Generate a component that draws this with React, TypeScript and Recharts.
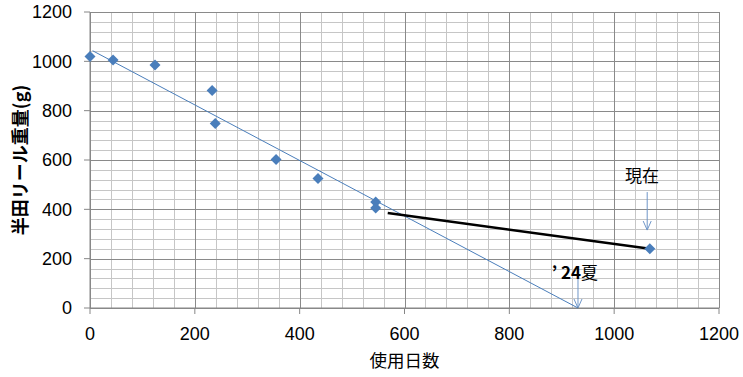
import React from "react";
import {
  ScatterChart,
  Scatter,
  XAxis,
  YAxis,
  CartesianGrid,
  ReferenceLine,
  ReferenceDot,
} from "recharts";

// measured reel weight (g) by days of use
const days = [0, 44, 124, 233, 239, 355, 435, 545, 545, 1068];
const weights = [1020, 1005, 985, 882, 748, 602, 525, 430, 405, 240];

// linear trend drawn on the original sheet
const trendDays = [5, 931];
const trendWeights = [1043, 0];

// hand-drawn line towards the current value
const nowLineDays = [568, 1068];
const nowLineWeights = [385, 240];

const xTicks = [0, 200, 400, 600, 800, 1000, 1200];
const yTicks = [0, 200, 400, 600, 800, 1000, 1200];
const X_MAX = 1200;
const Y_MAX = 1200;

const minorStep = 40;
const minorX: number[] = [];
for (let v = 0; v <= X_MAX; v += minorStep) minorX.push(v);
const minorY: number[] = [];
for (let v = 0; v <= Y_MAX; v += minorStep) minorY.push(v);

const points = days.map((d, i) => ({ x: d, y: weights[i] }));
const trend = trendDays.map((d, i) => ({ x: d, y: trendWeights[i] }));
const nowLine = nowLineDays.map((d, i) => ({ x: d, y: nowLineWeights[i] }));

const BLUE = "#4a7ebb";
const ARROW = "#6f96c8";
const numFont = "'Liberation Sans Narrow', 'Liberation Sans', sans-serif";
const jpFont = "'Noto Sans CJK JP', sans-serif";

// grid positions through the axis scale (no label-collision thinning)
const xGen = (values: number[]) => (args: any) => {
  const scale = args?.xAxis?.scale;
  if (typeof scale === "function") return values.map((v) => scale(v));
  const o = args.offset;
  return values.map((v) => o.left + (v / X_MAX) * o.width);
};
const yGen = (values: number[]) => (args: any) => {
  const scale = args?.yAxis?.scale;
  if (typeof scale === "function") return values.map((v) => scale(v));
  const o = args.offset;
  return values.map((v) => o.top + (1 - v / Y_MAX) * o.height);
};

const gridLine = (color: string) => (props: any) => {
  const { x1, y1, x2, y2 } = props;
  const snap = (v: number) => Math.round(v) + 0.5;
  const vertical = x1 === x2;
  return (
    <line
      key={props.key}
      x1={vertical ? snap(x1) : x1}
      x2={vertical ? snap(x2) : x2}
      y1={vertical ? y1 : snap(y1)}
      y2={vertical ? y2 : snap(y2)}
      stroke={color}
      strokeWidth={1}
      fill="none"
    />
  );
};

const Diamond = (props: any) => {
  const { cx, cy } = props;
  if (cx == null || cy == null) return null;
  const r = 5.5;
  return (
    <path
      d={`M${cx},${cy - r} L${cx + r},${cy} L${cx},${cy + r} L${cx - r},${cy} Z`}
      fill={BLUE}
    />
  );
};

const NoDot = () => null;

const Arrow = (props: any) => {
  const { x1, y1, x2, y2 } = props;
  if (x1 == null) return null;
  return (
    <g>
      <line x1={x1} y1={y1} x2={x2} y2={y2} stroke={ARROW} strokeWidth={1} />
      <path
        d={`M${x2 - 4},${y2 - 9} L${x2},${y2} L${x2 + 4},${y2 - 9}`}
        fill="none"
        stroke={ARROW}
        strokeWidth={1}
      />
    </g>
  );
};

const NowLabel = (props: any) => (
  <text
    x={props.cx}
    y={props.cy}
    textAnchor="middle"
    dominantBaseline="central"
    fontFamily={jpFont}
    fontSize={17}
    fill="#000"
  >
    現在
  </text>
);

const SummerLabel = (props: any) => (
  <text
    x={props.cx}
    y={props.cy}
    textAnchor="middle"
    dominantBaseline="central"
    fontFamily={jpFont}
    fontSize={17}
    fill="#000"
  >
    <tspan fontWeight="bold">’ 24</tspan>
    <tspan>夏</tspan>
  </text>
);

export default function App() {
  return (
    <div style={{ position: "absolute", left: 0, top: 0, background: "#fff" }}>
      <ScatterChart
        width={743}
        height={377}
        margin={{ top: 12, right: 24, left: 0, bottom: 0 }}
      >
        <CartesianGrid
          verticalCoordinatesGenerator={xGen(minorX)}
          horizontalCoordinatesGenerator={yGen(minorY)}
          horizontal={gridLine("#c6c6c6")}
          vertical={gridLine("#c6c6c6")}
        />
        <CartesianGrid
          verticalCoordinatesGenerator={xGen(xTicks)}
          horizontalCoordinatesGenerator={yGen(yTicks)}
          horizontal={gridLine("#8a8a8a")}
          vertical={gridLine("#8a8a8a")}
        />
        <XAxis
          type="number"
          dataKey="x"
          domain={[0, X_MAX]}
          ticks={xTicks}
          height={69}
          tickSize={6}
          tickMargin={13}
          axisLine={{ stroke: "#868686" }}
          tickLine={{ stroke: "#868686" }}
          tick={{ fontSize: 18, fontFamily: numFont, fill: "#000" }}
          label={{
            value: "使用日数",
            position: "insideBottom",
            offset: 10,
            style: { fontSize: 17.5, fontFamily: jpFont, fill: "#000" },
          }}
        />
        <YAxis
          type="number"
          dataKey="y"
          domain={[0, Y_MAX]}
          ticks={yTicks}
          width={90}
          tickSize={6}
          tickMargin={12}
          axisLine={{ stroke: "#868686" }}
          tickLine={{ stroke: "#868686" }}
          tick={{ fontSize: 18, fontFamily: numFont, fill: "#000" }}
          label={{
            value: "半田リール重量(g)",
            angle: -90,
            position: "insideLeft",
            offset: 21,
            style: {
              fontSize: 18,
              fontFamily: jpFont,
              fontWeight: "bold",
              fill: "#000",
              textAnchor: "middle",
            },
          }}
        />
        <Scatter
          data={trend}
          line={{ stroke: BLUE, strokeWidth: 1 }}
          shape={NoDot}
          isAnimationActive={false}
        />
        <Scatter
          data={nowLine}
          line={{ stroke: "#000", strokeWidth: 2.5 }}
          shape={NoDot}
          isAnimationActive={false}
        />
        <Scatter data={points} shape={Diamond} isAnimationActive={false} />
        <ReferenceLine
          segment={[
            { x: 931, y: 140 },
            { x: 931, y: 0 },
          ]}
          shape={Arrow}
        />
        <ReferenceLine
          segment={[
            { x: 1063, y: 470 },
            { x: 1063, y: 316 },
          ]}
          shape={Arrow}
        />
        <ReferenceDot x={1053} y={543} r={0} shape={NowLabel} />
        <ReferenceDot x={925} y={150} r={0} shape={SummerLabel} />
      </ScatterChart>
    </div>
  );
}
